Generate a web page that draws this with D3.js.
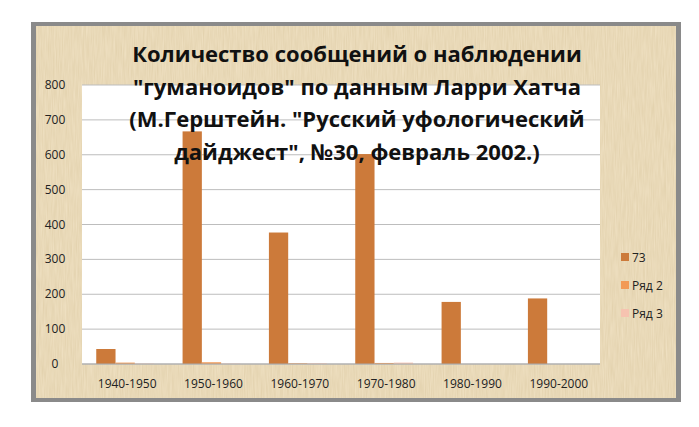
<!DOCTYPE html><html><head><meta charset="utf-8"><script src="https://cdn.jsdelivr.net/npm/d3@7"></script>
<style>body{margin:0;background:#fff}</style></head><body><svg id="c" width="699" height="427"></svg>
<script>
const categories=["1940-1950","1950-1960","1960-1970","1970-1980","1980-1990","1990-2000"];
const seriesNames=["73","Ряд 2","Ряд 3"];
const s1=[43,667,377,602,178,188];
const s2=[4,5,2,3,0,0];
const s3=[1,1,2,4,0,0];
const yTicks=[0,100,200,300,400,500,600,700,800];
const titleLines=["Количество сообщений о наблюдении","\"гуманоидов\" по данным Ларри Хатча","(М.Герштейн. \"Русский уфологический","дайджест\", №30, февраль 2002.)"];
const colors=["#CC7A3A","#F29A55","#F6C3B0"];
const svg=d3.select("#c");
const defs=svg.append("defs");
const f=defs.append("filter").attr("id","pap").attr("x",0).attr("y",0).attr("width",1).attr("height",1);
f.append("feTurbulence").attr("type","fractalNoise").attr("baseFrequency","0.9 0.05").attr("numOctaves",2).attr("seed",3);
f.append("feColorMatrix").attr("values","0 0 0 0 0.55  0 0 0 0 0.42  0 0 0 0 0.2  0 0 0 0.35 -0.05");
svg.append("rect").attr("x",31).attr("y",22).attr("width",650).attr("height",380).attr("fill","#8a8a8a");
svg.append("rect").attr("x",36).attr("y",26).attr("width",640).attr("height",372).attr("fill","#EEDFC0");
svg.append("rect").attr("x",36).attr("y",26).attr("width",640).attr("height",372).attr("fill","#fff").attr("filter","url(#pap)");
const x0=d3.scaleBand().domain(categories).range([82,600]).paddingInner(0.33).paddingOuter(0.165);
const x1=d3.scaleBand().domain(seriesNames).range([0,x0.bandwidth()]);
const y=d3.scaleLinear().domain([0,800]).range([364,85]);
svg.append("rect").attr("x",82).attr("y",85).attr("width",518).attr("height",279).attr("fill","#fff");
svg.selectAll(".g").data(yTicks).join("line").attr("x1",82).attr("x2",600).attr("y1",d=>y(d)).attr("y2",d=>y(d)).attr("stroke","#bdbdbd");
svg.selectAll(".yl").data(yTicks).join("text").attr("x",55).attr("y",d=>y(d)+4).attr("text-anchor","middle").attr("font-family","Open Sans").attr("font-size",12).attr("fill","#222").text(d=>d);
const data=[s1,s2,s3];
data.forEach((s,si)=>{
 svg.selectAll(".b"+si).data(s).join("rect").attr("x",(d,i)=>x0(categories[i])+x1(seriesNames[si])).attr("width",x1.bandwidth()).attr("y",d=>y(d)).attr("height",d=>364-y(d)).attr("fill",colors[si]);
});
svg.append("line").attr("x1",82).attr("x2",600).attr("y1",364).attr("y2",364).attr("stroke","#aaa");
svg.selectAll(".xl").data(categories).join("text").attr("x",d=>x0(d)+x0.bandwidth()/2+2).attr("y",388).attr("text-anchor","middle").attr("font-family","Open Sans").attr("font-size",12).attr("fill","#222").text(d=>d);
seriesNames.forEach((n,i)=>{
 const yy=258+i*28;
 svg.append("rect").attr("x",621).attr("y",yy-5).attr("width",8).attr("height",8).attr("fill",colors[i]);
 svg.append("text").attr("x",632).attr("y",yy+4).attr("font-family","Open Sans").attr("font-size",12).attr("fill","#222").text(n);
});
svg.selectAll(".t").data(titleLines).join("text").attr("x",357).attr("y",(d,i)=>62+i*32.5).attr("text-anchor","middle").attr("font-family","Open Sans").attr("font-weight","bold").attr("font-size",22).attr("fill","#111").text(d=>d);
</script></body></html>
